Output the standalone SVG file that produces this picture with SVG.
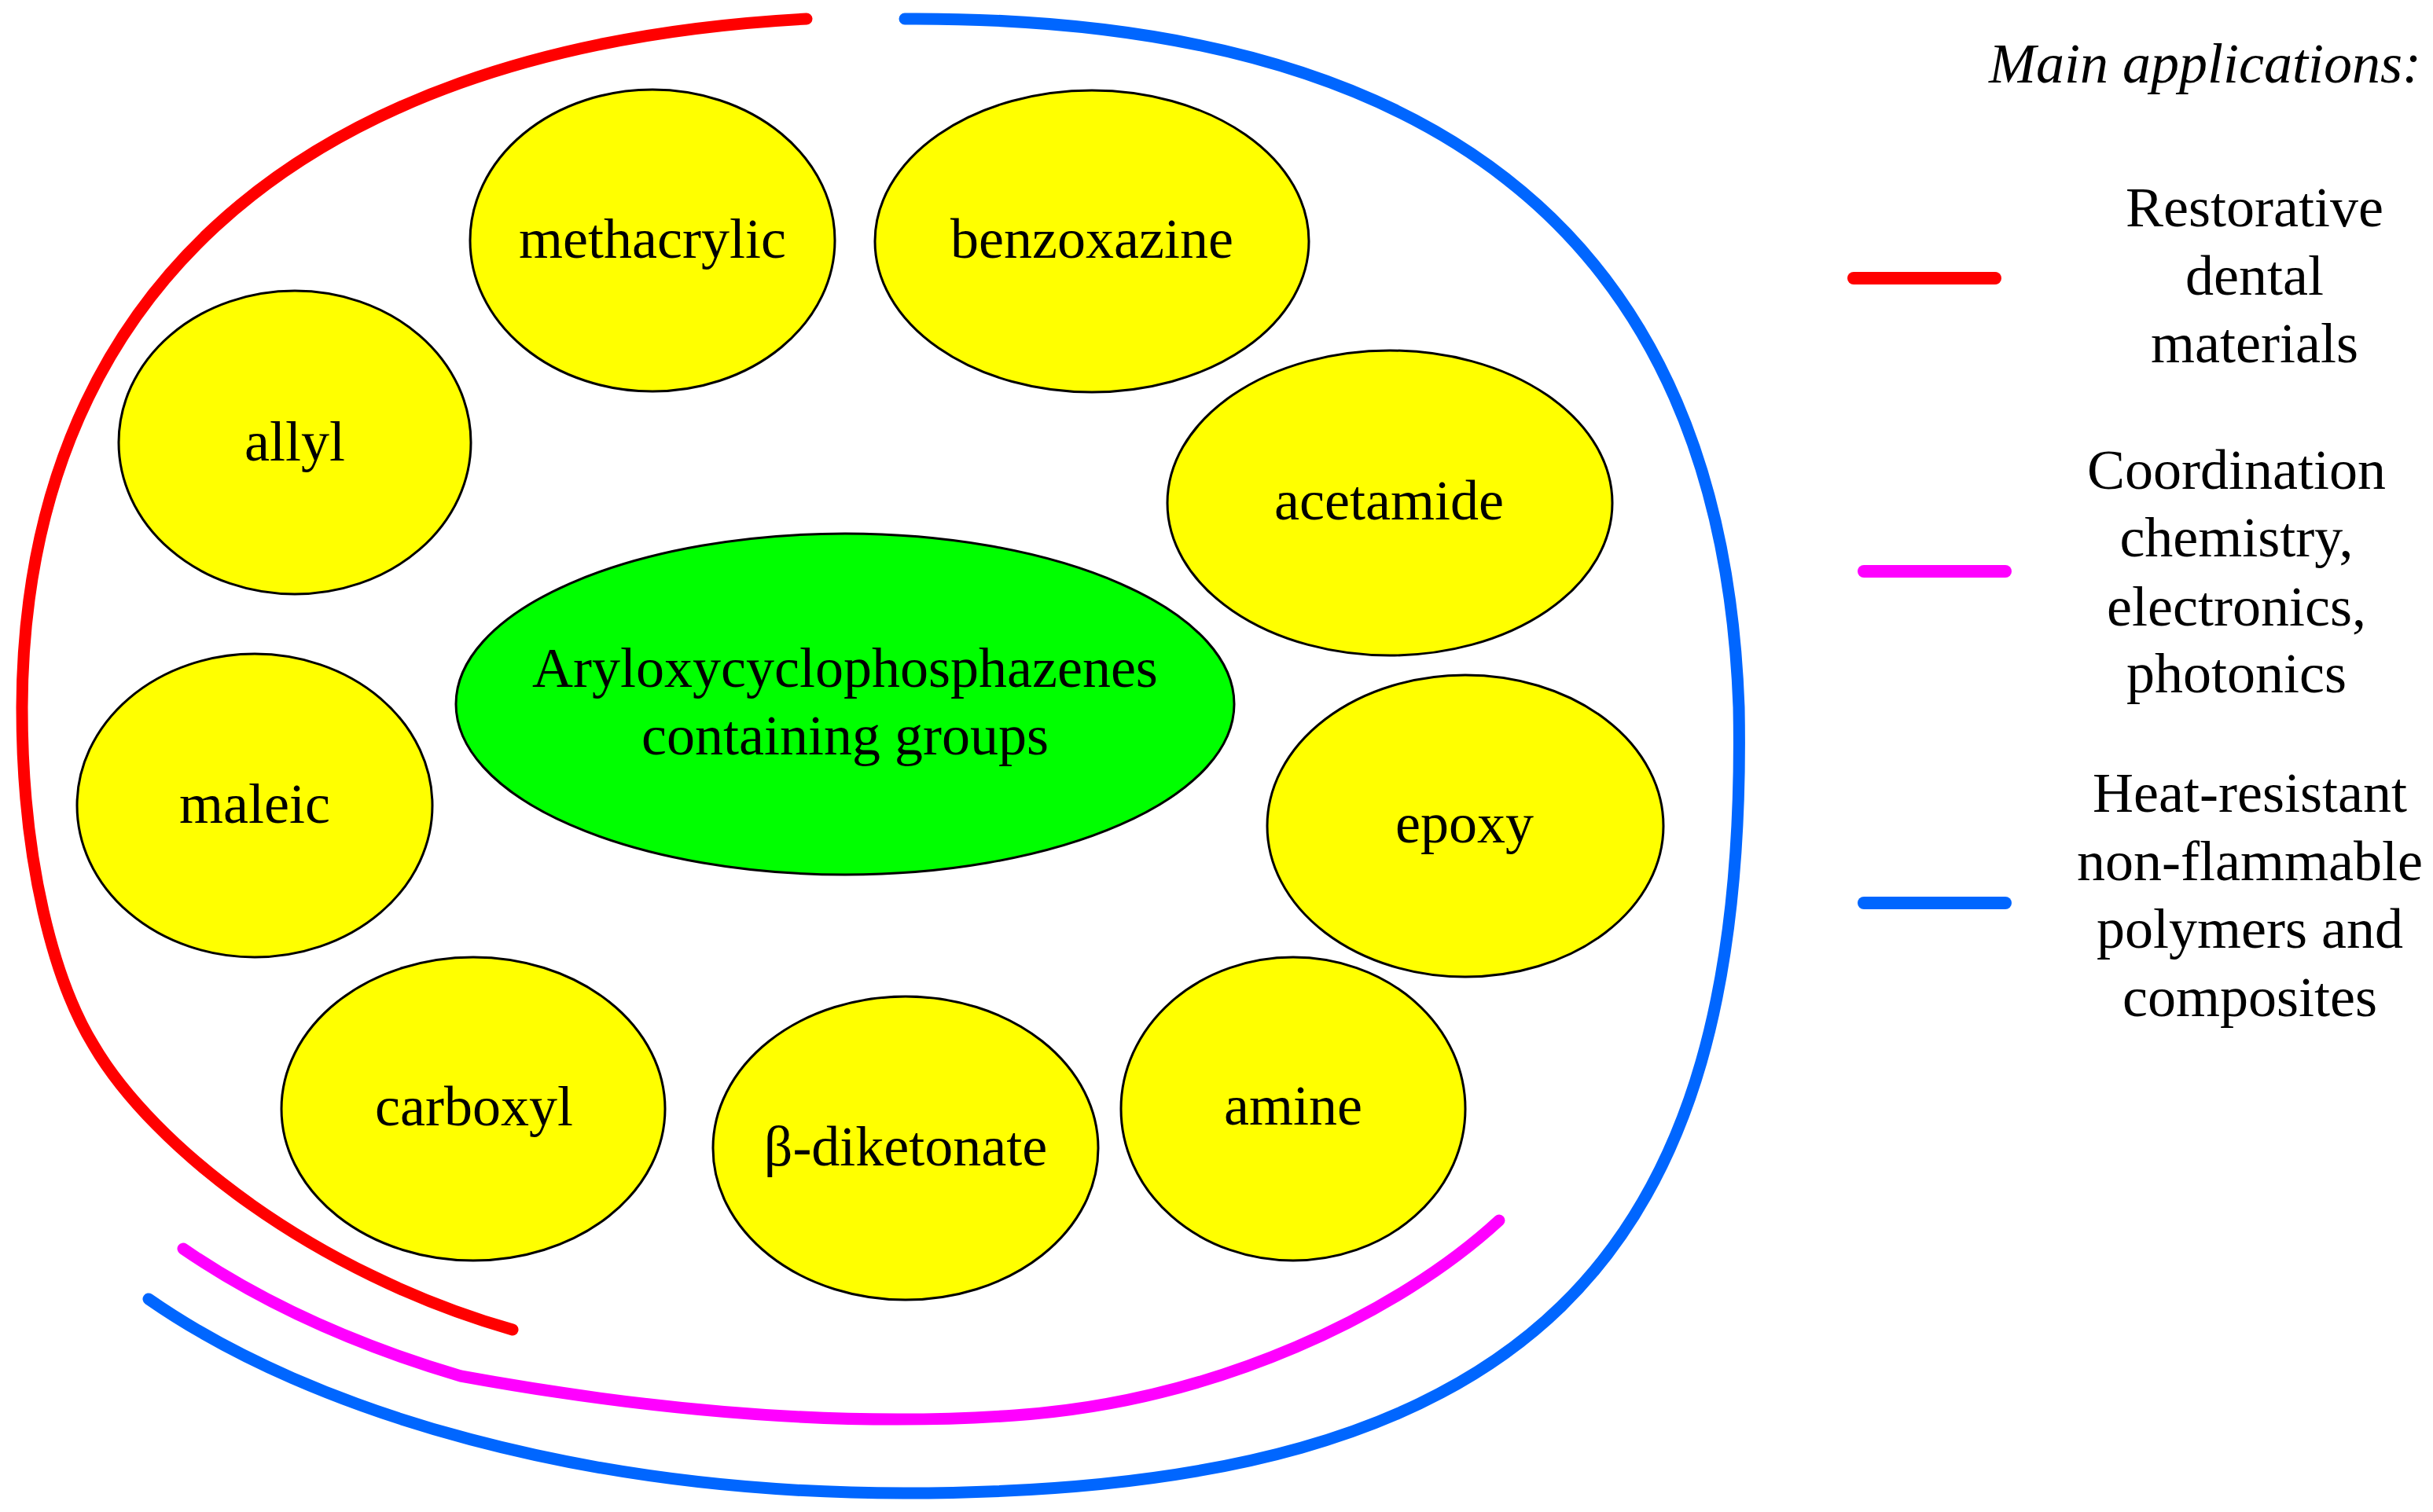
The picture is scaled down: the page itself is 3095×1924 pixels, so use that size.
<svg xmlns="http://www.w3.org/2000/svg" width="3095" height="1924" viewBox="0 0 3095 1924">
<style>
.node{fill:#FFFF00;stroke:#000;stroke-width:3}
.core{fill:#00FF00;stroke:#000;stroke-width:3}
.t{font-family:"Liberation Serif","Times New Roman",serif;font-size:72px;fill:#000;text-anchor:middle}
.arc{fill:none;stroke-width:15;stroke-linecap:round;stroke-linejoin:round}
.red{stroke:#FF0000}
.mag{stroke:#FF00FF}
.blue{stroke:#0066FF}
.leg{fill:none;stroke-width:16;stroke-linecap:round}
</style>
<rect width="3095" height="1924" fill="#fff"/>
<g id="connectors">
<path class="arc red" d="M1026,24 C350,60 30,400 28,900 C28,1100 70,1250 119,1330 C195,1460 400,1620 652,1692"/>
<path class="arc mag" d="M233,1589 Q380,1690 586,1751 C800,1790 1050,1818 1291,1801 C1550,1783 1780,1670 1907,1553"/>
<path class="arc blue" d="M1151,24 C1800,20 2190,280 2212,900 C2225,1600 1950,1900 1150,1900 C750,1900 400,1800 189,1653"/>
</g>
<g id="core">
<ellipse class="core" cx="1075" cy="896" rx="495" ry="217"/>
<text class="t" x="1075" y="874">Aryloxycyclophosphazenes</text>
<text class="t" x="1075" y="960">containing groups</text>
</g>
<g id="methacrylic">
<ellipse class="node" cx="830" cy="306" rx="232" ry="192"/>
<text class="t" x="830" y="328">methacrylic</text>
</g>
<g id="benzoxazine">
<ellipse class="node" cx="1389" cy="307" rx="276" ry="192"/>
<text class="t" x="1389" y="328">benzoxazine</text>
</g>
<g id="allyl">
<ellipse class="node" cx="375" cy="563" rx="224" ry="193"/>
<text class="t" x="375" y="586">allyl</text>
</g>
<g id="acetamide">
<ellipse class="node" cx="1768" cy="640" rx="283" ry="194"/>
<text class="t" x="1767" y="661">acetamide</text>
</g>
<g id="maleic">
<ellipse class="node" cx="324" cy="1025" rx="226" ry="193"/>
<text class="t" x="324" y="1047">maleic</text>
</g>
<g id="epoxy">
<ellipse class="node" cx="1864" cy="1051" rx="252" ry="192"/>
<text class="t" x="1863" y="1072">epoxy</text>
</g>
<g id="carboxyl">
<ellipse class="node" cx="602" cy="1411" rx="244" ry="193"/>
<text class="t" x="603" y="1432">carboxyl</text>
</g>
<g id="diketonate">
<ellipse class="node" cx="1152" cy="1461" rx="245" ry="193"/>
<text class="t" x="1152" y="1483">β-diketonate</text>
</g>
<g id="amine">
<ellipse class="node" cx="1645" cy="1411" rx="219" ry="193"/>
<text class="t" x="1645" y="1431">amine</text>
</g>
<g id="legend">
<text class="t" x="3080" y="105" style="text-anchor:end;font-style:italic">Main applications:</text>
<line class="leg red" x1="2358" y1="354" x2="2538" y2="354"/>
<text class="t" x="2868" y="288">Restorative</text>
<text class="t" x="2868" y="375">dental</text>
<text class="t" x="2868" y="461">materials</text>
<line class="leg mag" x1="2371" y1="727" x2="2551" y2="727"/>
<text class="t" x="2845" y="622">Coordination</text>
<text class="t" x="2845" y="708">chemistry,</text>
<text class="t" x="2845" y="796">electronics,</text>
<text class="t" x="2845" y="881">photonics</text>
<line class="leg blue" x1="2371" y1="1149" x2="2551" y2="1149"/>
<text class="t" x="2862" y="1033">Heat-resistant</text>
<text class="t" x="2862" y="1120">non-flammable</text>
<text class="t" x="2862" y="1206">polymers and</text>
<text class="t" x="2862" y="1293">composites</text>
</g>
</svg>
